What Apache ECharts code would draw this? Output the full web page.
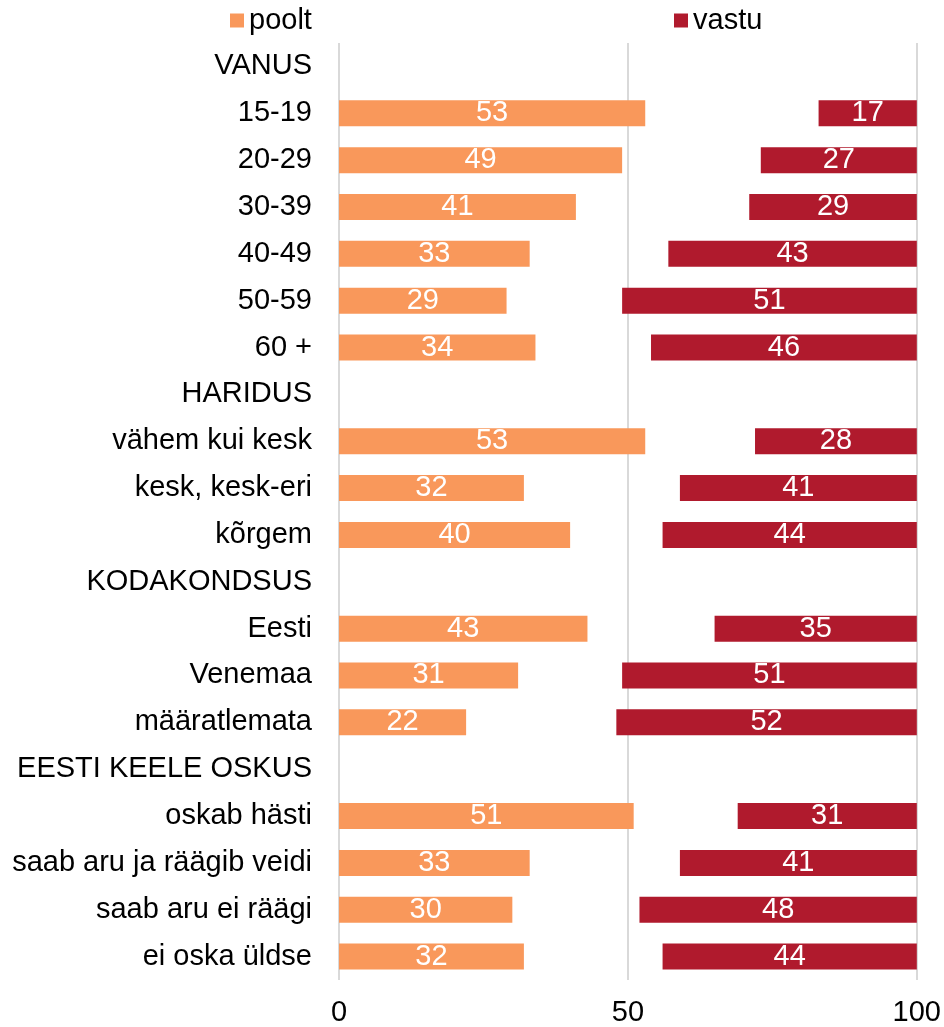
<!DOCTYPE html>
<html>
<head>
<meta charset="utf-8">
<script src="https://cdn.jsdelivr.net/npm/echarts@6/dist/echarts.min.js"></script>
<style>
  html, body { margin: 0; padding: 0; background: #fff; }
  #chart { width: 944px; height: 1027px; }
</style>
</head>
<body>
<div id="chart"></div>
<script>
// Row labels, group headers included (headers carry no bars)
const categories = [
  'VANUS', '15-19', '20-29', '30-39', '40-49', '50-59', '60 +',
  'HARIDUS', 'vähem kui kesk', 'kesk, kesk-eri', 'kõrgem',
  'KODAKONDSUS', 'Eesti', 'Venemaa', 'määratlemata',
  'EESTI KEELE OSKUS', 'oskab hästi', 'saab aru ja räägib veidi', 'saab aru ei räägi', 'ei oska üldse'
];
// Share in favour (%), null for header rows
const poolt = [
  null, 53, 49, 41, 33, 29, 34,
  null, 53, 32, 40,
  null, 43, 31, 22,
  null, 51, 33, 30, 32
];
// Share against (%), drawn right-aligned to 100
const vastu = [
  null, 17, 27, 29, 43, 51, 46,
  null, 28, 41, 44,
  null, 35, 51, 52,
  null, 31, 41, 48, 44
];
const xTicks = [0, 50, 100];

const FONT = "'Liberation Sans', Arial, sans-serif";
const FS = 29;
const ORANGE = '#F9985B';
const RED = '#B01A2D';

// invisible spacer so that "vastu" ends at 100
const spacer = poolt.map((p, i) => (p == null ? '-' : 100 - p - vastu[i]));
const toSeries = arr => arr.map(v => (v == null ? '-' : v));

const chart = echarts.init(document.getElementById('chart'), null, { renderer: 'canvas' });

const labelStyle = {
  show: true,
  position: 'inside',
  color: '#ffffff',
  fontSize: FS,
  fontFamily: FONT
};

chart.setOption({
  animation: false,
  textStyle: { fontFamily: FONT },
  legend: [
    {
      data: ['poolt'],
      left: 225, top: 1,
      icon: 'rect', itemWidth: 14, itemHeight: 14,
      textStyle: { fontSize: FS, color: '#000', fontFamily: FONT }
    },
    {
      data: ['vastu'],
      left: 669, top: 1,
      icon: 'rect', itemWidth: 14, itemHeight: 14,
      textStyle: { fontSize: FS, color: '#000', fontFamily: FONT }
    }
  ],
  grid: { left: 339, right: 27, top: 43, bottom: 47, containLabel: false },
  xAxis: {
    type: 'value',
    min: xTicks[0],
    max: xTicks[xTicks.length - 1],
    interval: xTicks[1] - xTicks[0],
    axisLine: { show: false },
    axisTick: { show: false },
    splitLine: { show: true, lineStyle: { color: '#d9d9d9', width: 2 } },
    axisLabel: { fontSize: FS, color: '#000', margin: 18, fontFamily: FONT }
  },
  yAxis: {
    type: 'category',
    inverse: true,
    data: categories,
    axisLine: { show: false },
    axisTick: { show: false },
    axisLabel: { fontSize: FS, color: '#000', margin: 27, fontFamily: FONT }
  },
  series: [
    {
      name: 'poolt', type: 'bar', stack: 'all', barWidth: 26,
      itemStyle: { color: ORANGE },
      label: labelStyle,
      data: toSeries(poolt)
    },
    {
      name: 'gap', type: 'bar', stack: 'all', barWidth: 26, silent: true,
      itemStyle: { color: 'rgba(0,0,0,0)' },
      label: { show: false },
      data: spacer
    },
    {
      name: 'vastu', type: 'bar', stack: 'all', barWidth: 26,
      itemStyle: { color: RED },
      label: labelStyle,
      data: toSeries(vastu)
    }
  ]
});
</script>
</body>
</html>
